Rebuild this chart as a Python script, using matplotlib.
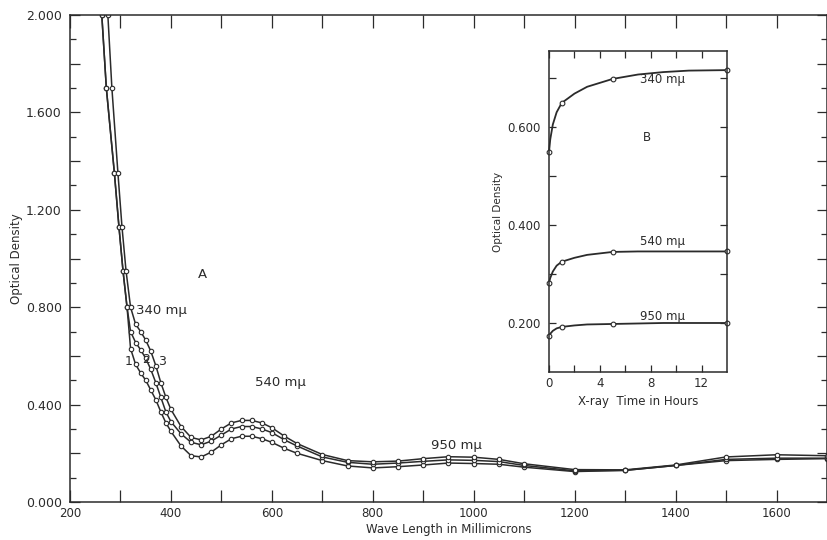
import matplotlib
matplotlib.use("Agg")
import matplotlib.pyplot as plt
import numpy as np

# main panel A: optical density vs wave length, three curves
wl3 = [275, 283, 295, 303, 311, 320, 330, 340, 350, 360, 370, 380, 390, 400, 420, 440, 460, 480, 500,
       520, 540, 560, 580, 600, 625, 650, 700, 750, 800, 850, 900, 950, 1000, 1050, 1100, 1200, 1300,
       1400, 1500, 1600, 1700]
od3 = [2.0, 1.70, 1.35, 1.13, 0.95, 0.80, 0.73, 0.70, 0.665, 0.62, 0.56, 0.49, 0.43, 0.38, 0.31, 0.265,
       0.255, 0.27, 0.30, 0.325, 0.335, 0.335, 0.325, 0.305, 0.27, 0.24, 0.195, 0.17, 0.165, 0.168, 0.178,
       0.186, 0.184, 0.175, 0.157, 0.133, 0.132, 0.152, 0.185, 0.194, 0.19]

wl12 = [263, 272, 288, 297, 305, 313, 320, 330, 340, 350, 360, 370, 380, 390, 400, 420, 440, 460, 480,
        500, 520, 540, 560, 580, 600, 625, 650, 700, 750, 800, 850, 900, 950, 1000, 1050, 1100, 1200,
        1300, 1400, 1500, 1600, 1700]
od2 = [2.0, 1.70, 1.35, 1.13, 0.95, 0.80, 0.70, 0.655, 0.625, 0.59, 0.545, 0.49, 0.43, 0.37, 0.33, 0.28,
       0.245, 0.235, 0.25, 0.275, 0.30, 0.31, 0.31, 0.30, 0.285, 0.255, 0.23, 0.185, 0.163, 0.155, 0.16,
       0.167, 0.173, 0.171, 0.166, 0.15, 0.128, 0.13, 0.15, 0.175, 0.18, 0.18]
od1 = [2.0, 1.70, 1.35, 1.13, 0.95, 0.80, 0.63, 0.565, 0.53, 0.50, 0.46, 0.42, 0.37, 0.325, 0.29, 0.23,
       0.19, 0.185, 0.205, 0.235, 0.26, 0.27, 0.27, 0.26, 0.245, 0.22, 0.20, 0.17, 0.148, 0.14, 0.145,
       0.152, 0.16, 0.158, 0.155, 0.143, 0.125, 0.13, 0.15, 0.17, 0.175, 0.178]

y_ticks = [0.0, 0.2, 0.4, 0.6, 0.8, 1.0, 1.2, 1.4, 1.6, 1.8, 2.0]
y_labels = ["0.000", "", "0.400", "", "0.800", "", "1.200", "", "1.600", "", "2.000"]
x_labels = [200, 400, 600, 800, 1000, 1200, 1400, 1600]

# inset B: optical density vs x-ray time
hours = [0, 0.1, 0.3, 0.6, 1, 2, 3, 5, 7, 9, 11, 14]
marked = [0, 4, 7, 11]
od_340 = [0.549, 0.575, 0.605, 0.630, 0.649, 0.668, 0.682, 0.698, 0.707, 0.712, 0.715, 0.716]
od_540 = [0.282, 0.292, 0.305, 0.317, 0.325, 0.333, 0.339, 0.345, 0.346, 0.346, 0.346, 0.346]
od_950 = [0.173, 0.178, 0.184, 0.189, 0.192, 0.195, 0.197, 0.198, 0.199, 0.200, 0.200, 0.200]

ink = "#2b2b2b"
plt.rcParams["font.family"] = ["DejaVu Sans"]

fig = plt.figure(figsize=(8.28, 5.40), dpi=100)
ax = fig.add_axes([70/828, 38/540, 757/828, 487/540])

for w, o in [(wl12, od1), (wl12, od2), (wl3, od3)]:
    ax.plot(w, o, color=ink, lw=1.1, marker="o", ms=3.2, mfc="white", mec=ink, mew=0.8)

ax.set_xlim(200, 1700)
ax.set_ylim(0, 2.0)
ax.set_xticks(np.arange(200, 1701, 100), minor=True)
ax.set_xticks(x_labels)
ax.set_xticklabels([str(v) for v in x_labels])
ax.set_yticks(y_ticks)
ax.set_yticklabels(y_labels)
ax.set_yticks(np.arange(0.1, 2.0, 0.2), minor=True)
ax.tick_params(which="both", direction="in", top=True, right=True, colors=ink, width=0.9,
               labelsize=8.5, labelcolor=ink)
ax.tick_params(axis="x", which="both", length=9)
ax.tick_params(axis="y", which="major", length=7, labelsize=9, pad=6)
ax.tick_params(axis="y", which="minor", length=4)
for s in ax.spines.values():
    s.set_color(ink)
    s.set_linewidth(1.1)
ax.set_xlabel("Wave Length in Millimicrons", fontsize=8.5, color=ink, labelpad=2)
ax.set_ylabel("Optical Density", fontsize=8.5, color=ink, labelpad=2)

ax.text(331, 0.785, "340 mμ", fontsize=9.5, color=ink, va="center")
ax.text(462, 0.935, "A", fontsize=9.5, color=ink, ha="center", va="center")
ax.text(317, 0.575, "1", fontsize=9, color=ink, ha="center", va="center")
ax.text(350, 0.585, "2", fontsize=9, color=ink, ha="center", va="center")
ax.text(383, 0.575, "3", fontsize=9, color=ink, ha="center", va="center")
ax.text(617, 0.49, "540 mμ", fontsize=9.5, color=ink, ha="center", va="center")
ax.text(965, 0.23, "950 mμ", fontsize=9.5, color=ink, ha="center", va="center")

# inset
ins = fig.add_axes([549/828, 168/540, 178/828, 321/540])
for o in [od_340, od_540, od_950]:
    ins.plot(hours, o, color=ink, lw=1.3, marker="o", ms=3.4, mfc="white", mec=ink, mew=0.8,
             markevery=marked, clip_on=False)
ins.set_xlim(0, 14)
ins.set_ylim(0.1, 0.755)
ins.set_xticks([0, 4, 8, 12])
ins.set_xticks([2, 6, 10], minor=True)
ins.set_yticks([0.2, 0.4, 0.6])
ins.set_yticklabels(["0.200", "0.400", "0.600"])
ins.set_yticks([0.3, 0.5, 0.7], minor=True)
ins.tick_params(which="both", direction="in", top=True, right=True, length=5, width=0.9,
                colors=ink, labelsize=8.5, labelcolor=ink)
ins.tick_params(axis="y", pad=6)
for s in ins.spines.values():
    s.set_color(ink)
    s.set_linewidth(1.1)
ins.set_xlabel("X-ray  Time in Hours", fontsize=8.5, color=ink, labelpad=4)
ins.set_ylabel("Optical Density", fontsize=7.5, color=ink, labelpad=3)
ins.text(8.9, 0.697, "340 mμ", fontsize=8.5, color=ink, ha="center", va="center")
ins.text(7.7, 0.578, "B", fontsize=8.5, color=ink, ha="center", va="center")
ins.text(8.9, 0.367, "540 mμ", fontsize=8.5, color=ink, ha="center", va="center")
ins.text(8.9, 0.213, "950 mμ", fontsize=8.5, color=ink, ha="center", va="center")

fig.savefig("out.png", dpi=100)
